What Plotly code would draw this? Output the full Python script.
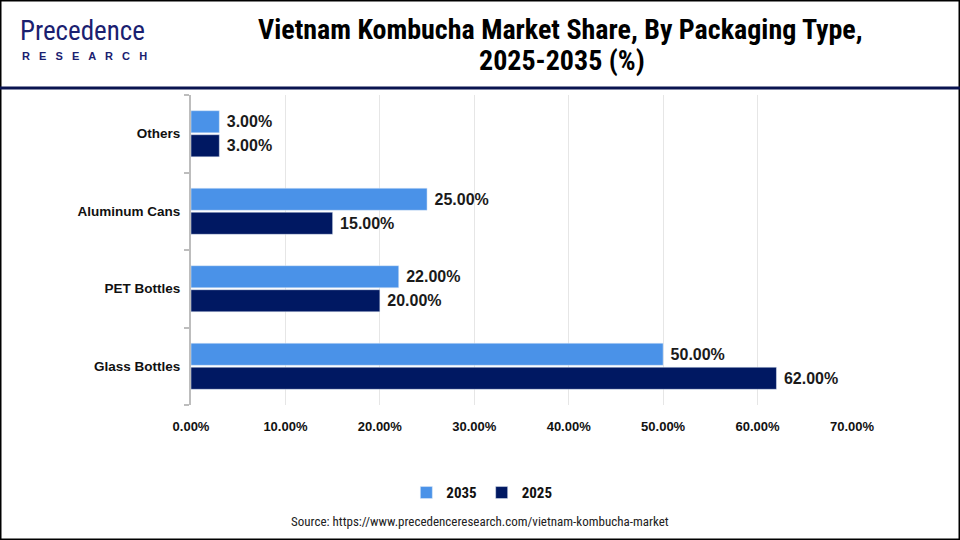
import plotly.graph_objects as go

categories = ["Glass Bottles", "PET Bottles", "Aluminum Cans", "Others"]
values_2025 = [62, 20, 15, 3]
values_2035 = [50, 22, 25, 3]
x_ticks = [0, 10, 20, 30, 40, 50, 60, 70]
x_tick_labels = ["0.00%", "10.00%", "20.00%", "30.00%", "40.00%", "50.00%", "60.00%", "70.00%"]

C2035 = "#4A92E8"
C2025 = "#001862"
NARROW = "Liberation Sans Narrow, Roboto Condensed, Arial Narrow, sans-serif"
BOLD = "Liberation Sans, Arial, sans-serif"

fig = go.Figure()
fig.add_trace(go.Bar(
    y=categories, x=values_2025, name="2025", orientation="h",
    marker_color=C2025, text=values_2025, texttemplate="\u00a0%{x:.2f}%",
    textposition="outside", cliponaxis=False,
    textfont=dict(family=BOLD, size=16, color="#1a1a1a", weight="bold"),
))
fig.add_trace(go.Bar(
    y=categories, x=values_2035, name="2035", orientation="h",
    marker_color=C2035, text=values_2035, texttemplate="\u00a0%{x:.2f}%",
    textposition="outside", cliponaxis=False,
    textfont=dict(family=BOLD, size=16, color="#1a1a1a", weight="bold"),
))

fig.update_layout(
    width=960, height=540,
    margin=dict(l=191, r=108, t=95, b=135),
    paper_bgcolor="white", plot_bgcolor="white",
    barmode="group", bargap=0.38, bargroupgap=0.08,
    showlegend=True,
    legend=dict(orientation="h", traceorder="reversed", x=0.44, xanchor="center",
                y=-0.23, yanchor="top",
                font=dict(family=NARROW, size=15, color="#111", weight="bold"),
                itemwidth=30, tracegroupgap=0),
    xaxis=dict(range=[0, 70], tickvals=x_ticks, ticktext=x_tick_labels,
               showgrid=True, gridcolor="#e6e6e6", gridwidth=1, zeroline=False,
               showline=False, ticks="", ticklabelstandoff=12,
               tickfont=dict(family=BOLD, size=13, color="#111", weight="bold")),
    yaxis=dict(showline=True, linecolor="#bdbdbd", linewidth=2, ticks="outside",
               tickson="boundaries", ticklen=5, tickcolor="#bdbdbd", tickwidth=2,
               showgrid=False, ticklabelstandoff=6,
               tickfont=dict(family=BOLD, size=13.5, color="#111", weight="bold")),
    font=dict(family=BOLD),
)

shapes = [
    dict(type="rect", xref="paper", yref="paper", x0=-191/661, x1=1+108/661,
         y0=-135/310, y1=1+95/310, line=dict(color="black", width=3), fillcolor="rgba(0,0,0,0)"),
    dict(type="line", xref="paper", yref="paper", x0=-191/661, x1=1+108/661,
         y0=1+(95-88)/310, y1=1+(95-88)/310, line=dict(color="#0a1450", width=3)),
]
fig.update_layout(shapes=shapes)

def px(xp):
    return (xp - 191) / 661

def py(yp):
    return (405 - yp) / 310

annotations = [
    dict(text="<b>Vietnam Kombucha Market Share, By Packaging Type,</b>", x=px(560), y=py(29),
         xref="paper", yref="paper", showarrow=False, xanchor="center", yanchor="middle",
         font=dict(family=NARROW, size=28, color="black")),
    dict(text="<b>2025-2035 (%)</b>", x=px(562), y=py(60),
         xref="paper", yref="paper", showarrow=False, xanchor="center", yanchor="middle",
         font=dict(family=NARROW, size=28, color="black")),
    dict(text="Precedence", x=px(18), y=py(31),
         xref="paper", yref="paper", showarrow=False, xanchor="left", yanchor="middle",
         font=dict(family=NARROW, size=27, color="#1a2070")),
    dict(text="R   E   S   E   A   R   C   H", x=px(20), y=py(56),
         xref="paper", yref="paper", showarrow=False, xanchor="left", yanchor="middle",
         font=dict(family=BOLD, size=11, color="#1a2070", weight="bold")),
    dict(text="Source: https://www.precedenceresearch.com/vietnam-kombucha-market", x=px(480), y=py(521),
         xref="paper", yref="paper", showarrow=False, xanchor="center", yanchor="middle",
         font=dict(family=NARROW, size=13, color="#222")),
]
fig.update_layout(annotations=annotations)

fig.write_html("out.html")
